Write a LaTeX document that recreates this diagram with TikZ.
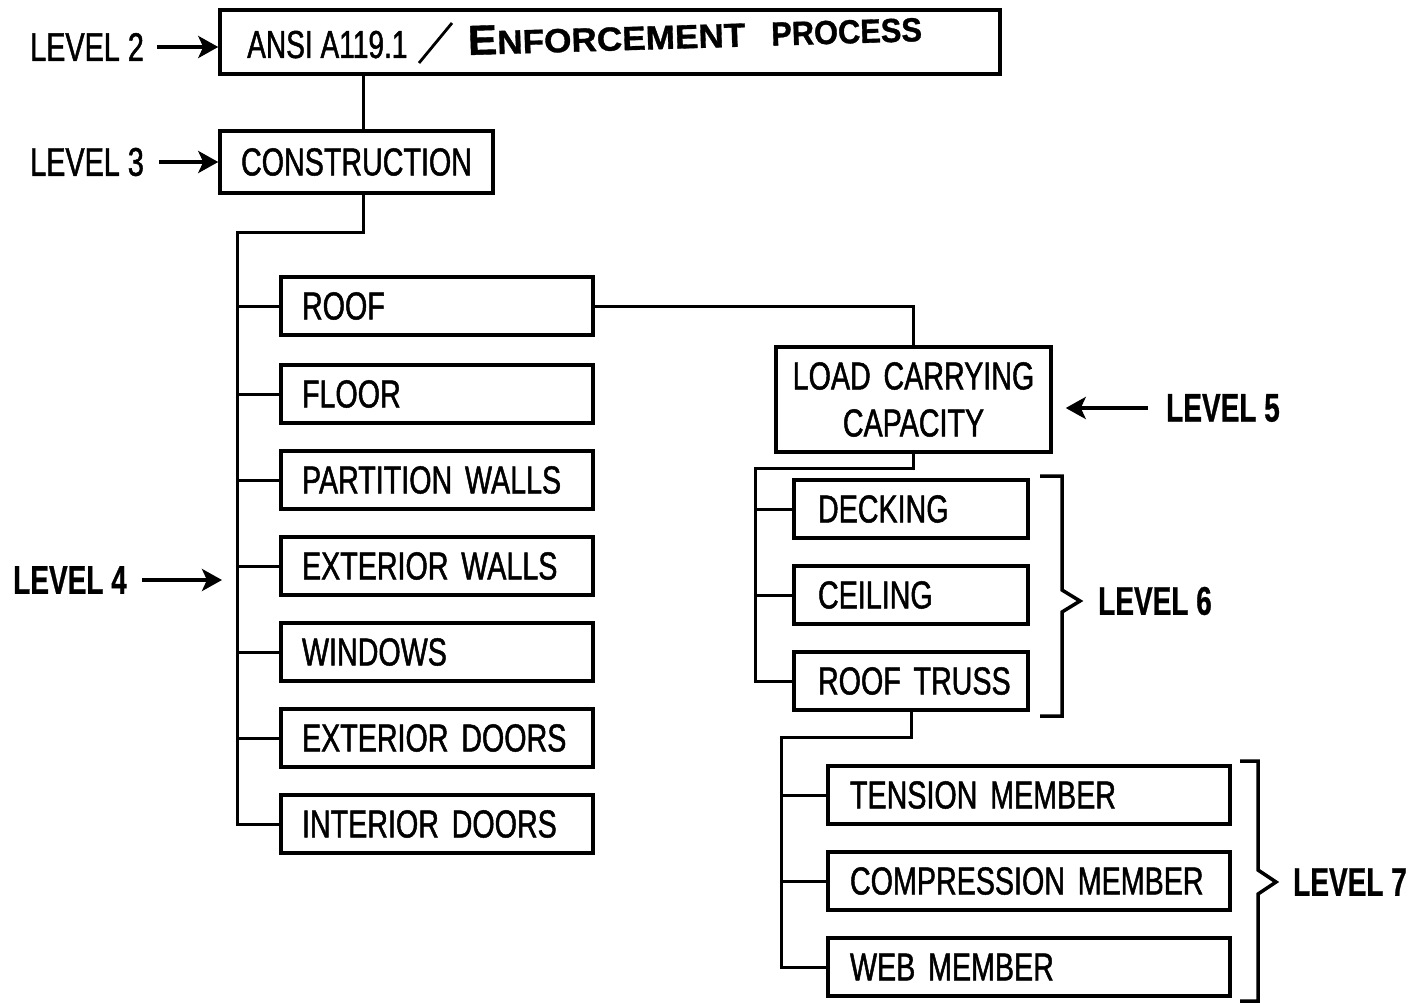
\documentclass[tikz,border=0pt]{standalone}
\usepackage{fontspec}
\setmainfont{Liberation Sans}[FakeStretch=0.735, WordSpace=1.6, FakeBold=1.2]
\newfontfamily\lvrfont{Liberation Sans}[FakeStretch=0.72, FakeBold=1.2]
\newfontfamily\lvfont{Liberation Sans Bold}[FakeStretch=0.70, FakeBold=0.6]
\newfontfamily\handA{Liberation Sans Bold}[FakeStretch=1.05, FakeBold=1]
\newfontfamily\handB{Liberation Sans Bold}[FakeStretch=0.92, FakeBold=1]
\usetikzlibrary{arrows.meta,calc}
\begin{document}
\begin{tikzpicture}[x=1pt,y=-1pt,
  box/.style={draw, line width=3.5pt, rectangle, inner ysep=0pt, font=\fontsize{39}{47}\selectfont},
  lfour/.style={box, minimum width=312pt, minimum height=58pt, inner xsep=21pt},
  lsix/.style={box, minimum width=234pt, minimum height=58pt, inner xsep=24pt},
  lseven/.style={box, minimum width=402pt, minimum height=58pt, inner xsep=22pt},
  wire/.style={line width=3pt},
  lvl/.style={inner sep=0pt, font=\lvfont\fontsize{40}{40}\selectfont},
  lvlr/.style={inner sep=0pt, font=\lvrfont\fontsize{40}{40}\selectfont},
  arr/.style={line width=4.5pt, -{Stealth[length=20pt,width=22pt,inset=5pt]}},
  brk/.style={line width=3.5pt}]
\useasboundingbox (0,0) rectangle (1413,1003);
\fill[white] (0,0) rectangle (1413,1003);

% level 2
\node[box, minimum width=780pt, minimum height=64pt] (top) at (610,42) {};
\node[anchor=base west, inner sep=0pt, font=\lvrfont\fontsize{39}{39}\selectfont] (ansi) at (247,58) {ANSI A119.1};
\draw[line width=2.8pt] (419,63) -- (452,23);
\node[anchor=base west, inner sep=0pt, rotate=1.75] (enf) at (468,55)
  {{\handA\fontsize{42}{42}\selectfont E}{\handA\fontsize{33.5}{33.5}\selectfont NFORCEMENT}\hspace{26pt}{\handB\fontsize{33.5}{33.5}\selectfont PROCESS}};

% level 3
\node[box, minimum width=273pt, minimum height=62pt] (cons) at (356.5,162) {CONSTRUCTION};
\coordinate (c3) at (363,0);
\draw[wire] (c3 |- top.south) -- (c3 |- cons.north);

% level 4
\foreach \n/\y/\t in {roof/306/ROOF, floor/394/FLOOR, part/480/PARTITION WALLS,
  extw/566/EXTERIOR WALLS, win/652/WINDOWS, extd/738/EXTERIOR DOORS, intd/824/INTERIOR DOORS}
  \node[lfour] (\n) at (437,\y) {\makebox[270pt][l]{\t}};
\coordinate (t4) at (237,232);
\draw[wire] (c3 |- cons.south) |- (t4) |- (intd.west);
\foreach \n in {roof,floor,part,extw,win,extd}
  \draw[wire] (\n.west) -- (\n.west -| t4);

% level 5
\node[box, minimum width=275pt, minimum height=105pt, align=center] (lcc) at (913.5,399.5) {LOAD CARRYING\\CAPACITY};
\draw[wire] (roof.east) -| (lcc.north);

% level 6
\foreach \n/\y/\t in {deck/509/DECKING, ceil/595/CEILING, rt/681/ROOF TRUSS}
  \node[lsix] (\n) at (911,\y) {\makebox[186pt][l]{\t}};
\coordinate (t6) at (755,468);
\draw[wire] (lcc.south) |- (t6) |- (rt.west);
\foreach \n in {deck,ceil}
  \draw[wire] (\n.west) -- (\n.west -| t6);

% level 7
\foreach \n/\y/\t in {ten/795/TENSION MEMBER, comp/881/COMPRESSION MEMBER, web/967/WEB MEMBER}
  \node[lseven] (\n) at (1029,\y) {\makebox[358pt][l]{\t}};
\coordinate (t7) at (781,737);
\draw[wire] (rt.south) |- (t7) |- (web.west);
\foreach \n in {ten,comp}
  \draw[wire] (\n.west) -- (\n.west -| t7);

% level labels
\node[lvlr, anchor=west] (L2) at (30,47) {LEVEL 2};
\draw[arr] ([xshift=13pt]L2.east) -- (L2.east -| top.west);
\node[lvlr, anchor=west] (L3) at (30,162) {LEVEL 3};
\draw[arr] ([xshift=15pt]L3.east) -- (L3.east -| cons.west);
\node[lvl, anchor=west] (L4) at (13,580) {LEVEL 4};
\coordinate (a4) at (222,580);
\draw[arr] ([xshift=15pt]L4.east) -- (a4);
\node[lvl, anchor=west] (L5) at (1166,408) {LEVEL 5};
\draw[arr] ([xshift=-18pt]L5.west) -- ($(lcc.east |- L5.west)+(13,0)$);
\node[lvl, anchor=west] (L6) at (1098,601) {LEVEL 6};
\node[lvl, anchor=west] (L7) at (1293,882) {LEVEL 7};

% brackets
\draw[brk] (1040,476) -- (1062,476) -- (1062,590) -- (1080,601) -- (1062,612) -- (1062,716) -- (1040,716);
\draw[brk] (1240,761) -- (1258,761) -- (1258,870) -- (1276,882) -- (1258,894) -- (1258,1001) -- (1240,1001);
\end{tikzpicture}
\end{document}
